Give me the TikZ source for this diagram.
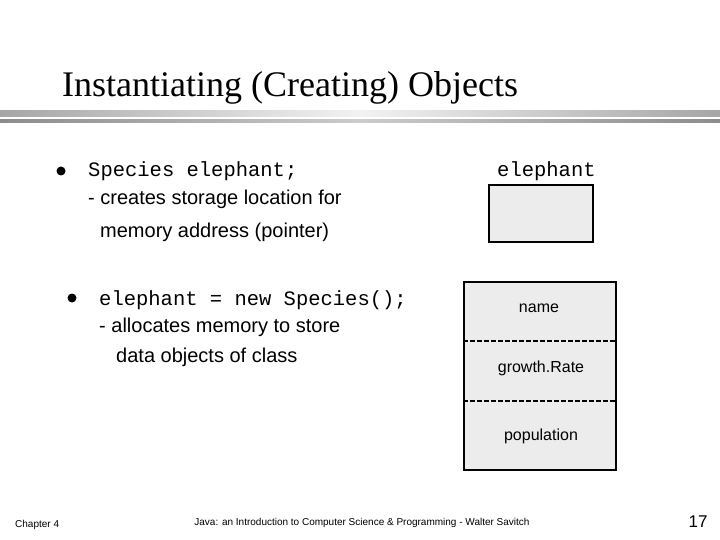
\documentclass[tikz,border=0pt]{standalone}
\usepackage{fontspec}
\setmainfont{Liberation Serif}
\newfontfamily\arial{Liberation Sans}
\newfontfamily\cour{Liberation Mono}
\begin{document}
\begin{tikzpicture}[x=1pt,y=-1pt,
  code/.style={font=\cour\fontsize{20.5}{24}\selectfont,anchor=base west,inner sep=0},
  body/.style={font=\arial\fontsize{20}{24}\selectfont,anchor=base west,inner sep=0},
  small/.style={font=\arial\fontsize{10}{12}\selectfont,inner sep=0},
  fld/.style={font=\arial\fontsize{16}{18}\selectfont,inner sep=0},
  dot/.style={circle,fill=black,inner sep=0,minimum size=9pt}]
\useasboundingbox (0,0) rectangle (720,540);
\node[anchor=base west,inner sep=0,font=\fontsize{36}{40}\selectfont] (title) at (62,97) {Instantiating (Creating) Objects};
\shade[left color=gray!70, right color=gray!70, middle color=gray!10] (0,111) rectangle (720,117);
\shade[left color=gray!90, right color=gray!90, middle color=gray!40] (0,120) rectangle (720,123);
\node[dot] (b1) at (61,171) {};
\node[code] (l1) at (88,177) {Species elephant;};
\node[body] (l2) at (88,205) {- creates storage location for};
\node[body] (l3) at (100,237) {memory address (pointer)};
\node[dot] (b2) at (72,298) {};
\node[code] (l4) at (99,305) {elephant = new Species();};
\node[body] (l5) at (99,332) {- allocates memory to store};
\node[body] (l6) at (116,362) {data objects of class};
\node[code] (lab) at (497,177) {elephant};
\draw[line width=1.5,fill=gray!15] (489,185) rectangle (593,242);
\node[draw,line width=1.5,fill=gray!15,minimum width=152,minimum height=188,inner sep=0] (obj) at (540,376) {};
\draw[line width=1.5,dash pattern=on 5pt off 2pt] (obj.west |- 0,341) -- (obj.east |- 0,341);
\draw[line width=1.5,dash pattern=on 5pt off 2pt] (obj.west |- 0,401) -- (obj.east |- 0,401);
\node[fld] (f1) at (539,308) {name};
\node[fld] (f2) at (541,368) {growth.Rate};
\node[fld] (f3) at (541,436) {population};
\node[small,anchor=base west] (ch) at (15,527) {Chapter 4};
\node[small] (ft) at (362,523) {Java: an Introduction to Computer Science \& Programming - Walter Savitch};
\node[font=\arial\fontsize{17}{19}\selectfont,inner sep=0] (pg) at (698,522) {17};
\end{tikzpicture}
\end{document}
